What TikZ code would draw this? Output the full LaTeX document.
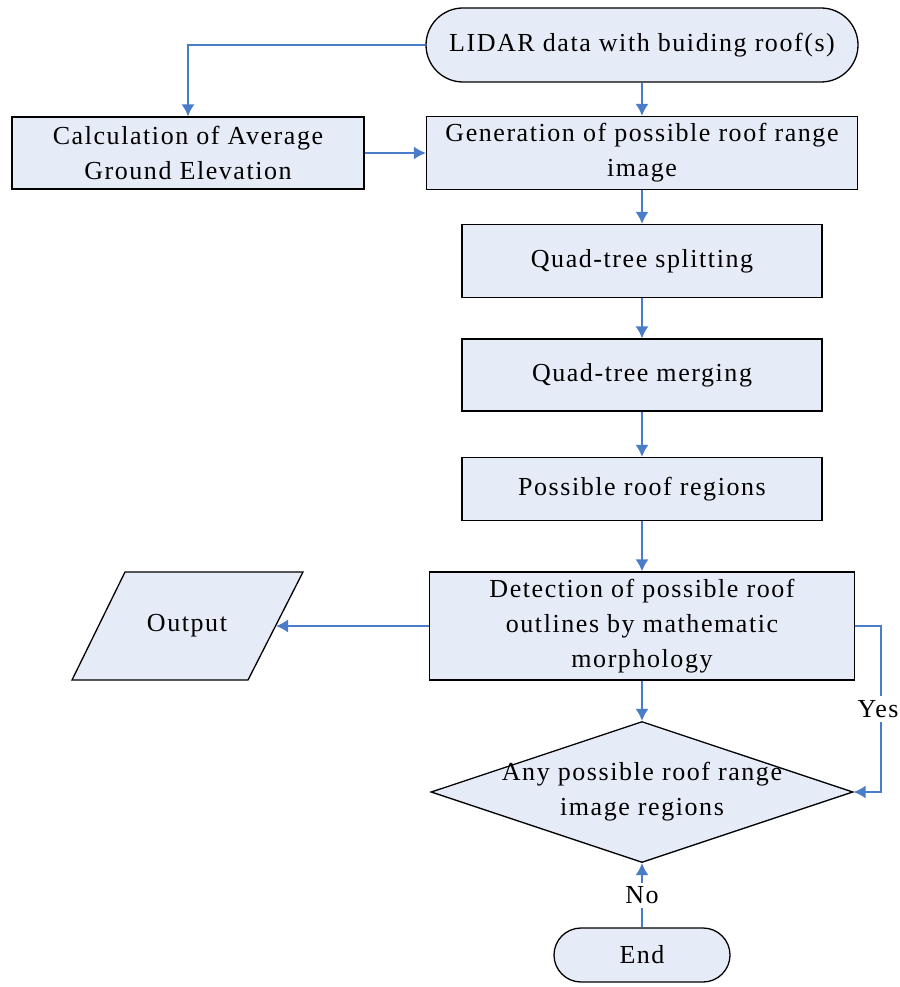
\documentclass[tikz,border=0pt]{standalone}
\usepackage{fontspec}
\setmainfont[LetterSpace=6]{Liberation Serif}
\usetikzlibrary{shapes.geometric,arrows.meta}
\definecolor{boxfill}{HTML}{E6ECF7}
\definecolor{flowblue}{HTML}{4A7DC9}

\begin{document}
\begin{tikzpicture}[x=1pt,y=-1pt]
	\tikzset{>={Latex[length=12pt,width=13pt]}}
	\tikzset{
		block/.style={draw=black, line width=1.3pt, fill=boxfill, align=center, inner sep=2pt, font=\fontsize{26}{35}\selectfont},
		process/.style={block, rectangle},
		terminal/.style={block, rectangle, rounded corners=#1},
		decision/.style={block, diamond},
		flow/.style={->, draw=flowblue, line width=1.5pt},
		answer/.style={fill=white, inner xsep=1pt, inner ysep=4pt, font=\fontsize{26}{35}\selectfont}
	}
	\useasboundingbox (0,0) rectangle (899,987);

	\node[terminal=37pt, minimum width=432, minimum height=74] (lidar) at (642,45) {LIDAR data with buiding roof(s)};
	\node[process, minimum width=352, minimum height=72] (avg) at (188,153) {Calculation of Average\\Ground Elevation};
	\node[process, minimum width=431, minimum height=73] (gen) at (642,153) {Generation of possible roof range\\image};
	\node[process, minimum width=360, minimum height=73] (split) at (642,261) {Quad-tree splitting};
	\node[process, minimum width=360, minimum height=72] (merge) at (642,375) {Quad-tree merging};
	\node[process, minimum width=360, minimum height=63] (regions) at (642,489) {Possible roof regions};
	\node[process, minimum width=425, minimum height=108] (detect) at (642,626) {Detection of possible roof\\outlines by mathematic\\morphology};

	\filldraw[draw=black, line width=1.3pt, fill=boxfill] (72,680) -- (125,572) -- (303,572) -- (248,680) -- cycle;
	\node[font=\fontsize{26}{35}\selectfont] (output) at (187,626) {Output};
	\coordinate (outedge) at (276,626);

	\node[decision, minimum width=422, minimum height=141] (anyreg) at (642,792) {};
	\node[align=center, font=\fontsize{26}{35}\selectfont] (anytext) at (anyreg) {Any possible roof range\\image regions};
	\node[terminal=27pt, minimum width=176, minimum height=54] (end) at (642,955) {End};

	\draw[flow] (lidar.west) -| (avg.north);
	\draw[flow] (lidar) -- (gen);
	\draw[flow] (avg) -- (gen);
	\draw[flow] (gen) -- (split);
	\draw[flow] (split) -- (merge);
	\draw[flow] (merge) -- (regions);
	\draw[flow] (regions) -- (detect);
	\draw[flow] (detect.west) -- (outedge);
	\draw[flow] (detect) -- (anyreg);
	\draw[flow] (detect.east) -- ++(26,0) |- node[answer, pos=0.25, xshift=-3pt] (yes) {Yes} (anyreg.east);
	\draw[flow] (end) -- node[answer] (no) {No} (anyreg.south);
\end{tikzpicture}
\end{document}
